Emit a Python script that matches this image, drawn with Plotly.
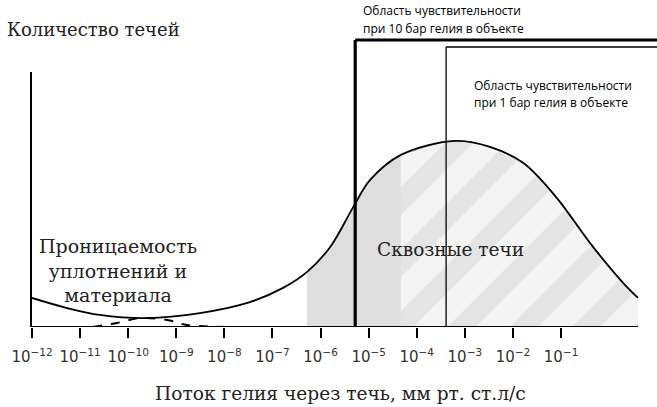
import plotly.graph_objects as go

# log10 of helium flow (decades) vs relative number of leaks
flow_log = [-12.0, -11.27, -10.59, -9.61, -8.51, -7.47, -6.78, -6.28, -5.80, -5.33,
            -4.97, -4.33, -3.2, -2.48, -1.79, -1.09, -0.40, 0.29, 0.60]
leak_count = [15.6, 10.2, 6.5, 4.8, 7.5, 13.4, 21.0, 29.6, 43.0, 64.0,
              79.0, 92.5, 100.0, 96.8, 88.2, 69.4, 45.2, 23.7, 15.6]

# dashed permeability curve
perm_x = [-10.73, -10.23, -9.75, -9.19, -8.78, -7.95]
perm_y = [0.0, 2.2, 4.8, 3.8, 1.1, 0.0]

# sensitivity limits (log10 flow)
sens_10bar = -5.28
sens_1bar = -3.39

tick_vals = list(range(-12, 0))
tick_text = [f"10<sup>\u2212{abs(v)}</sup>" for v in tick_vals]

SERIF = "DejaVu Serif"
SANS = "Open Sans"

fig = go.Figure()

# plain grey part of the through-leak area
fig.add_trace(go.Scatter(
    x=flow_log[7:12], y=leak_count[7:12],
    mode="lines", line=dict(color="#c4c4c4", width=1, shape="spline"),
    fill="tozeroy", fillcolor="#dedede", hoverinfo="skip",
))
# striped part
fig.add_trace(go.Scatter(
    x=flow_log[11:], y=leak_count[11:],
    mode="lines", line=dict(color="#a8a8a8", width=1, shape="spline"),
    fill="tozeroy",
    fillpattern=dict(shape="/", bgcolor="#f4f4f4", fgcolor="#d4d4d4",
                     size=44, solidity=0.45),
    hoverinfo="skip",
))
# main curve
fig.add_trace(go.Scatter(
    x=flow_log, y=leak_count, mode="lines",
    line=dict(color="black", width=1.8, shape="spline"),
))
# dashed curve
fig.add_trace(go.Scatter(
    x=perm_x, y=perm_y, mode="lines",
    line=dict(color="black", width=2, dash="dash", shape="spline"),
))

# baseline
fig.add_shape(type="line", x0=-12, x1=flow_log[-1], y0=0, y1=0,
              line=dict(color="black", width=2))

# sensitivity region outlines
fig.add_shape(type="line", xref="x", yref="paper", x0=sens_10bar, x1=sens_10bar,
              y0=0, y1=1.1255, line=dict(color="black", width=3.2))
fig.add_shape(type="line", xref="x", yref="paper", x0=sens_10bar, x1=1.2,
              y0=1.1255, y1=1.1255, line=dict(color="black", width=3.2))
fig.add_shape(type="line", xref="x", yref="paper", x0=sens_1bar, x1=sens_1bar,
              y0=0, y1=1.098, line=dict(color="black", width=1.3))
fig.add_shape(type="line", xref="x", yref="paper", x0=sens_1bar, x1=1.2,
              y0=1.098, y1=1.098, line=dict(color="black", width=1.3))

# texts
fig.add_annotation(x=-0.043, y=1.165, xref="paper", yref="paper",
                   xanchor="left", yanchor="middle",
                   text="Количество течей", showarrow=False,
                   font=dict(family=SERIF, size=18, color="#222"))
fig.add_annotation(x=0.493, y=-0.259, xref="paper", yref="paper",
                   xanchor="center", yanchor="middle",
                   text="Поток гелия через течь, мм рт. ст.л/с", showarrow=False,
                   font=dict(family=SERIF, size=18.6, color="#222"))
fig.add_annotation(x=-10.21, y=30.6, xanchor="center", yanchor="middle",
                   text="Проницаемость<br>уплотнений и<br>материала",
                   showarrow=False, font=dict(family=SERIF, size=19, color="#222"))
fig.add_annotation(x=-3.29, y=41.4, xanchor="center", yanchor="middle",
                   text="Сквозные течи", showarrow=False,
                   font=dict(family=SERIF, size=18.5, color="#222"))

sens_font = dict(family=SANS, size=12, color="black")
fig.add_annotation(x=sens_10bar + 0.12, y=1.243, xref="x", yref="paper",
                   xanchor="left", yanchor="middle",
                   text="Область чувствительности", showarrow=False, font=sens_font)
fig.add_annotation(x=sens_10bar + 0.12, y=1.170, xref="x", yref="paper",
                   xanchor="left", yanchor="middle",
                   text="при 10 бар гелия в объекте", showarrow=False, font=sens_font)
fig.add_annotation(x=sens_1bar + 0.54, y=129.6, xanchor="left", yanchor="middle",
                   text="Область чувствительности", showarrow=False, font=sens_font)
fig.add_annotation(x=sens_1bar + 0.54, y=120.4, xanchor="left", yanchor="middle",
                   text="при 1 бар гелия в объекте", showarrow=False, font=sens_font)

fig.update_layout(
    width=657, height=407,
    margin=dict(l=32, r=0, t=72, b=80),
    plot_bgcolor="white", paper_bgcolor="white",
    showlegend=False,
)
fig.update_xaxes(
    range=[-12, 0.995], showgrid=False, zeroline=False, showline=False,
    automargin=False,
    tickvals=tick_vals, ticktext=tick_text, ticks="outside", ticklen=10,
    tickwidth=1.5, tickcolor="black", ticklabelstandoff=6,
    tickfont=dict(family="DejaVu Sans", size=15, color="#333"),
)
fig.update_yaxes(
    range=[0, 137], showgrid=False, zeroline=False, showline=True,
    automargin=False,
    linecolor="black", linewidth=2, showticklabels=False, ticks="",
)

# drop the default 8px body margin so the figure fills the window exactly
fig.write_html("out.html", config={"displayModeBar": False},
               post_script="document.body.style.margin = '0';")
